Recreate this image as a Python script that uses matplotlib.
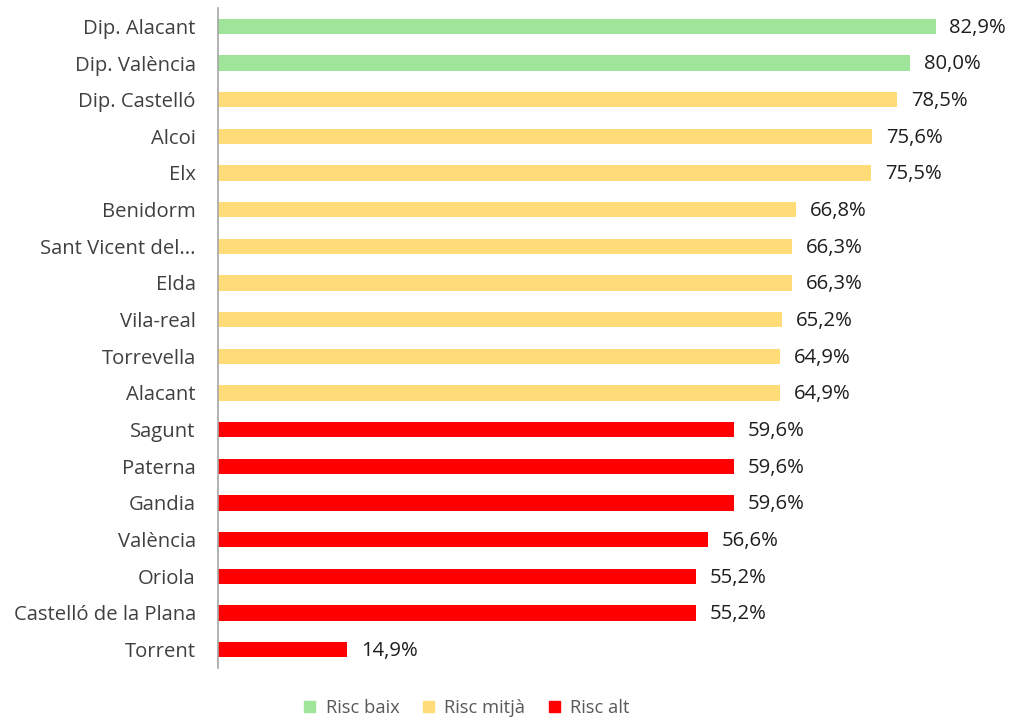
import matplotlib
matplotlib.use("Agg")
import matplotlib.pyplot as plt
from matplotlib.patches import Patch

categories = ["Dip. Alacant", "Dip. València", "Dip. Castelló", "Alcoi", "Elx",
              "Benidorm", "Sant Vicent del...", "Elda", "Vila-real", "Torrevella",
              "Alacant", "Sagunt", "Paterna", "Gandia", "València", "Oriola",
              "Castelló de la Plana", "Torrent"]
values = [82.9, 80.0, 78.5, 75.6, 75.5, 66.8, 66.3, 66.3, 65.2, 64.9,
          64.9, 59.6, 59.6, 59.6, 56.6, 55.2, 55.2, 14.9]
risk = ["baix", "baix", "mitjà", "mitjà", "mitjà", "mitjà", "mitjà", "mitjà",
        "mitjà", "mitjà", "mitjà", "alt", "alt", "alt", "alt", "alt", "alt", "alt"]
risk_labels = ["Risc baix", "Risc mitjà", "Risc alt"]
risk_colors = {"baix": "#9EE59A", "mitjà": "#FFDC78", "alt": "#FF0000"}

plt.rcParams["font.family"] = ["Open Sans", "DejaVu Sans"]

W, H = 1013, 717
fig = plt.figure(figsize=(W / 100, H / 100), dpi=100)
left, right, top, bottom = 218, 218 + 779, 8, 668
ax = fig.add_axes([left / W, 1 - bottom / H, (right - left) / W, (bottom - top) / H])

ypos = list(range(len(categories)))
colors = [risk_colors[r] for r in risk]
ax.barh(ypos, values, height=0.42, color=colors)
ax.set_ylim(len(categories) - 0.5, -0.5)
ax.set_xlim(0, 90)

for y, v in zip(ypos, values):
    ax.text(v + 1.6, y + 0.04, f"{v:.1f}%".replace(".", ","), va="center", ha="left",
            fontsize=14.6, color="#1E1E1E")

ax.set_yticks(ypos)
ax.set_yticklabels(categories, fontsize=14.6, color="#404040")
ax.tick_params(axis="y", length=0, pad=16)
ax.set_xticks([])
for s in ["top", "right", "bottom"]:
    ax.spines[s].set_visible(False)
ax.spines["left"].set_color("#A6A6A6")
ax.spines["left"].set_linewidth(1.2)

handles = [Patch(color=risk_colors[k]) for k in ["baix", "mitjà", "alt"]]
fig.legend(handles, risk_labels, loc="center", bbox_to_anchor=(467 / W, 1 - 708 / H),
           ncol=3, frameon=False, fontsize=13.2, labelcolor="#595959",
           handlelength=0.6, handleheight=0.6, handletextpad=0.55, columnspacing=1.3)

fig.savefig("out.png", dpi=100)
